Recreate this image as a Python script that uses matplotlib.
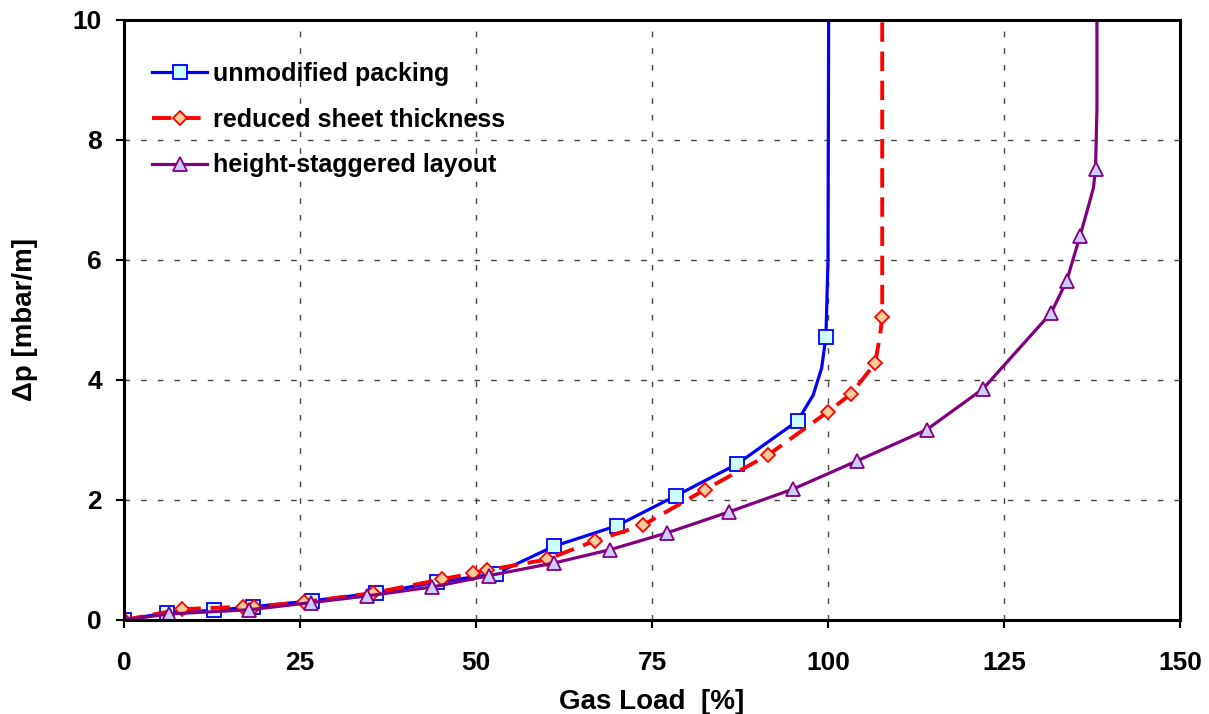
import matplotlib
matplotlib.use("Agg")
import matplotlib.pyplot as plt
from matplotlib.lines import Line2D

plt.rcParams['font.family'] = ['Liberation Sans', 'DejaVu Sans']
plt.rcParams['font.weight'] = 'bold'

# unmodified packing: measured points (markers) and the drawn curve through them
unmod_x = [0, 6.1, 12.8, 18.3, 26.7, 35.8, 44.5, 52.8, 61.1, 70.0, 78.4, 87.1, 95.7, 99.7]
unmod_y = [0, 0.12, 0.16, 0.22, 0.32, 0.45, 0.63, 0.77, 1.23, 1.57, 2.07, 2.60, 3.32, 4.72]
unmod_curve_x = unmod_x[:-1] + [97.9, 99.1, 99.7, 100.0, 100.1]
unmod_curve_y = unmod_y[:-1] + [3.75, 4.2, 4.72, 6.0, 10.5]

# reduced sheet thickness
red_x = [0, 8.2, 16.9, 18.5, 25.6, 35.4, 45.2, 49.6, 51.6, 60.1, 66.9, 73.7, 82.5, 91.5,
         100.0, 103.3, 106.7, 107.7]
red_y = [0, 0.18, 0.22, 0.22, 0.30, 0.45, 0.68, 0.78, 0.83, 1.01, 1.32, 1.58, 2.17, 2.75,
         3.47, 3.77, 4.28, 5.05]
red_curve_x = red_x[:-1] + [107.4, 107.7, 107.7]
red_curve_y = red_y[:-1] + [4.75, 5.05, 10.5]

# height-staggered layout
hs_x = [0, 6.4, 17.8, 26.6, 34.5, 43.8, 51.9, 61.1, 69.0, 77.1, 85.9, 95.0, 104.1,
        114.0, 122.0, 131.7, 133.9, 135.8, 138.0]
hs_y = [0, 0.10, 0.17, 0.29, 0.40, 0.55, 0.74, 0.95, 1.17, 1.45, 1.80, 2.18, 2.65,
        3.17, 3.85, 5.12, 5.65, 6.40, 7.52]
hs_curve_x = hs_x[:-1] + [137.0, 137.7, 138.0, 138.2, 138.2]
hs_curve_y = hs_y[:-1] + [6.9, 7.2, 7.52, 8.5, 10.5]

fig = plt.figure(figsize=(12.09, 7.14), dpi=100)
ax = fig.add_axes([0.1026, 0.1317, 0.8734, 0.8403])

# grid
ax.grid(True, color='#444444', linestyle=(0, (4, 8)), linewidth=1.0)
ax.set_axisbelow(True)

series = [
    (unmod_x, unmod_y, unmod_curve_x, unmod_curve_y, '#0000FF', '-', 's', '#CCFFFF', 'unmodified packing'),
    (red_x, red_y, red_curve_x, red_curve_y, '#FF0000', (0, (5, 2.5)), 'D', '#FFCC99', 'reduced sheet thickness'),
    (hs_x, hs_y, hs_curve_x, hs_curve_y, '#800080', '-', '^', '#CCCCFF', 'height-staggered layout'),
]
msize = {'s': 10, 'D': 7.5, '^': 10}
handles = []
for x, y, cx, cy, col, ls, mk, fc, lab in series:
    w = 2.3 if ls == '-' else 2.8
    ax.plot(cx, cy, color=col, linestyle=ls, linewidth=w)
    ax.plot(x, y, linestyle='none', marker=mk, markersize=msize[mk],
            markerfacecolor=fc, markeredgecolor=col, markeredgewidth=1.3)
    handles.append(Line2D([], [], color=col, linestyle=ls, linewidth=w, marker=mk,
                          markersize=msize[mk], markerfacecolor=fc, markeredgecolor=col,
                          markeredgewidth=1.3, label=lab))

ax.set_xlim(0, 150)
ax.set_ylim(0, 10)
ax.set_xticks([0, 25, 50, 75, 100, 125, 150])
ax.set_yticks([0, 2, 4, 6, 8, 10])

for s in ax.spines.values():
    s.set_linewidth(2.2)
ax.tick_params(direction='out', length=6, width=1.5, labelsize=19)
ax.tick_params(axis='x', pad=16)
ax.tick_params(axis='y', pad=10)

ax.set_xlabel('Gas Load  [%]', fontsize=20, fontweight='bold', va='center')
ax.set_ylabel('Δp [mbar/m]', fontsize=20, fontweight='bold', va='center')
ax.xaxis.set_label_coords(0.5, -0.137)
ax.yaxis.set_label_coords(-0.094, 0.5)

leg = ax.legend(handles=handles, loc='upper left', frameon=False, fontsize=18,
                handlelength=2.2, handletextpad=0.25, labelspacing=0.87,
                borderaxespad=0.6, bbox_to_anchor=(0.003, 0.972))
for t in leg.get_texts():
    t.set_fontweight('bold')

fig.savefig('out.png', dpi=100)
